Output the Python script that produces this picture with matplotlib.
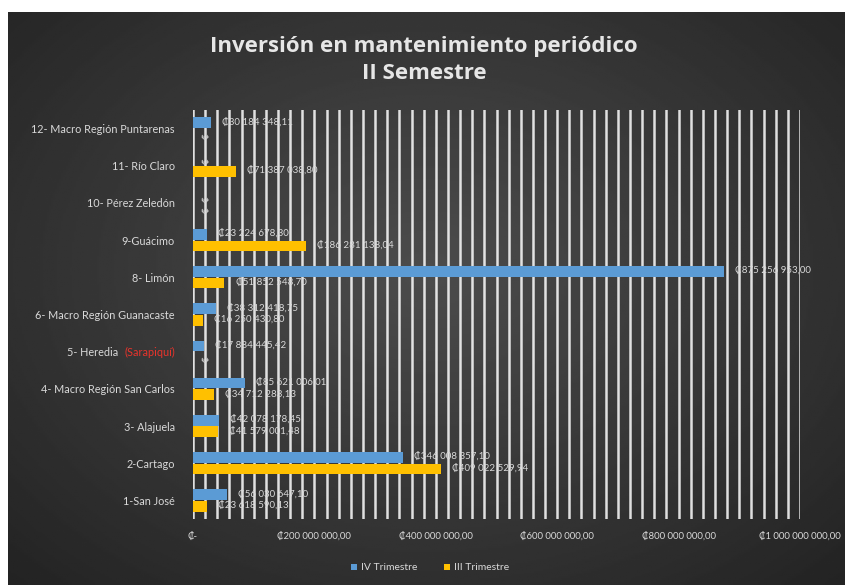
import numpy as np
import matplotlib.pyplot as plt
from matplotlib.ticker import MultipleLocator, FuncFormatter

plt.rcParams['font.family'] = ['Lato', 'DejaVu Sans']

# categories listed from bottom to top of the chart
categorias = ['1-San José', '2-Cartago', '3- Alajuela', '4- Macro Región San Carlos',
              '5- Heredia', '6- Macro Región Guanacaste', '8- Limón', '9-Guácimo',
              '10- Pérez Zeledón', '11- Río Claro', '12- Macro Región Puntarenas']
iv_trimestre = [56030647.10, 346008357.10, 42078178.45, 85621006.01, 17884445.42,
                38312418.75, 875256953.00, 23224678.30, 0, 0, 30184348.11]
iii_trimestre = [23618590.13, 409022529.94, 41579001.48, 34712283.13, 0,
                 16250430.80, 51852548.70, 186281138.04, 0, 71387038.80, 0]
series = ['IV Trimestre', 'III Trimestre']
colores = ['#5B9BD5', '#FFC000']
texto = '#d9d9d9'


def colones(v, pos=None):
    if v == 0:
        return '₡-'
    s = f'{v:,.2f}'.replace(',', ' ').replace('.', ',')
    return '₡' + s


W, H = 856, 585
fig = plt.figure(figsize=(W / 100, H / 100), dpi=100)
fig.patch.set_facecolor('white')

# dark radial gradient panel
bg = fig.add_axes([8 / W, 0, (845 - 8) / W, (H - 12) / H])
yy, xx = np.mgrid[0:1:300j, 0:1:400j]
r = np.sqrt(((xx - 0.5) / 0.75) ** 2 + ((yy - 0.45) / 0.8) ** 2)
grad = np.clip(0.30 - 0.17 * r, 0.13, 0.30)
bg.imshow(grad, cmap='gray', vmin=0, vmax=1, aspect='auto', extent=[0, 1, 0, 1])
bg.axis('off')

ax = fig.add_axes([193 / W, 1 - 519 / H, (800 - 193) / W, (519 - 110) / H])
ax.set_facecolor('none')

y = np.arange(len(categorias))
h = 0.29
off = 0.155
ax.barh(y + off, iv_trimestre, height=h, color=colores[0], label=series[0], zorder=3)
ax.barh(y - off, iii_trimestre, height=h, color=colores[1], label=series[1], zorder=3)

for vals, dy in [(iv_trimestre, off), (iii_trimestre, -off)]:
    for i, v in enumerate(vals):
        if v == 0:
            ax.annotate('₡-', xy=(0, i + dy), xytext=(9, 0), textcoords='offset points',
                        rotation=90, ha='center', va='center', fontsize=6, color=texto)
        else:
            ax.annotate(colones(v), xy=(v, i + dy), xytext=(8, 0), textcoords='offset points',
                        ha='left', va='center', fontsize=7, color=texto, zorder=4)

ax.set_xlim(0, 1_000_000_000)
ax.set_ylim(-0.5, len(categorias) - 0.5)
ax.xaxis.set_major_locator(MultipleLocator(200_000_000))
ax.xaxis.set_minor_locator(MultipleLocator(20_000_000))
ax.xaxis.set_major_formatter(FuncFormatter(colones))
ax.grid(which='both', axis='x', color='white', lw=1.8, alpha=0.85, zorder=1)
ax.set_yticks(y)
ax.set_yticklabels([c if not c.startswith('5-') else '(Sarapiquí)' for c in categorias])
ax.tick_params(axis='both', which='both', length=0)
ax.tick_params(axis='x', pad=10, labelsize=6.8, labelcolor=texto)
ax.tick_params(axis='y', pad=13, labelsize=7.8, labelcolor=texto)
for s in ax.spines.values():
    s.set_visible(False)

# Heredia label: grey part + red part
tl = ax.get_yticklabels()[4]
tl.set_color('#e8342c')
ax.annotate('5- Heredia  ', xy=(0, 0.5), xycoords=tl, ha='right', va='center',
            fontsize=7.8, color=texto)

fig.text(424 / W, 1 - 60 / H, 'Inversión en mantenimiento periódico\nII Semestre',
         ha='center', va='center', fontsize=16, fontweight='bold', color='#e6e6e6',
         family=['Open Sans', 'DejaVu Sans'], linespacing=1.4)

fig.legend(loc='center', bbox_to_anchor=(430 / W, 1 - 568 / H), ncol=2, frameon=False,
           fontsize=7.5, labelcolor=texto, handlelength=0.6, handleheight=0.6,
           handletextpad=0.4, columnspacing=2.5)

fig.savefig('out.png', dpi=100)
